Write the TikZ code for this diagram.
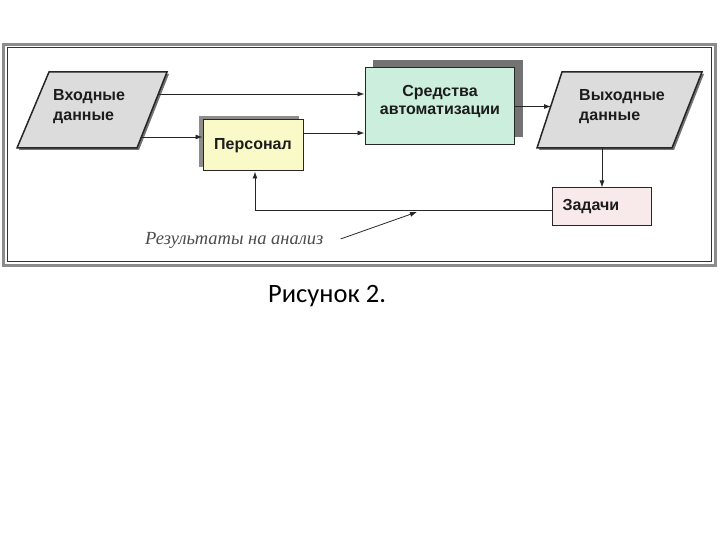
\documentclass[tikz,border=0pt]{standalone}
\usepackage{fontspec}
\setmainfont{Liberation Sans}
\newfontfamily\capfont{Carlito}
\newfontfamily\annfont{Liberation Serif}
\usetikzlibrary{arrows.meta,shadows}
\definecolor{inGray}{HTML}{DCDCDC}
\definecolor{persFill}{HTML}{FAFAC8}
\definecolor{sredFill}{HTML}{CCEFDD}
\definecolor{taskFill}{HTML}{F8E9EB}
\definecolor{txt}{HTML}{1C1C1C}
\begin{document}
\begin{tikzpicture}[x=1pt,y=-1pt,
  boxtext/.style={font=\fontsize{16}{18}\selectfont\bfseries, text=txt},
  box/.style={draw=black!85, line width=1pt, boxtext, inner sep=0pt},
  para/.style={draw=black!85, line width=1.5pt, fill=inGray},
  parashadow/.style={fill=black!55},
  conn/.style={draw=black!85, line width=0.9pt, -{Latex[length=7pt,width=5pt]}}
]
\useasboundingbox (0,0) rectangle (720,540);
\fill[white] (0,0) rectangle (720,540);
% frame
\draw[line width=3pt, draw=black!45] (3.5,44.5) rectangle (715,265.5);
\draw[line width=1pt, draw=black!80] (7.5,47.5) rectangle (711,261.5);

% input parallelogram
\fill[parashadow] (51,74) -- (169,74) -- (139,150) -- (19,150) -- cycle;
\draw[para] (49,72) -- (167,72) -- (137,148) -- (17,148) -- cycle;
\node[boxtext, anchor=west, align=left, font=\fontsize{16}{20}\selectfont\bfseries, inner sep=0pt] (in) at (53,107) {Входные\\данные};
\coordinate (inA) at (159,94);
\coordinate (inB) at (142,137);

% output parallelogram
\fill[parashadow] (564,74) -- (704,74) -- (674,150) -- (539,150) -- cycle;
\draw[para] (562,72) -- (702,72) -- (672,148) -- (537,148) -- cycle;
\node[boxtext, anchor=west, align=left, font=\fontsize{16}{20}\selectfont\bfseries, inner sep=0pt] (out) at (579,107) {Выходные\\данные};
\coordinate (outL) at (551,106.5);
\coordinate (outB) at (602,148);

% Персонал
\fill[black!45] (199,116) rectangle (299,167);
\node[box, fill=persFill, minimum width=100pt, minimum height=51pt] (pers) at (253,145.5) {Персонал};

% Средства автоматизации
\fill[black!55] (373,60) rectangle (523,137);
\node[box, fill=sredFill, minimum width=149pt, minimum height=77pt] (sred) at (439.5,106.5) {};
\node[boxtext, align=center, inner sep=0pt] (sredtxt) at (440,102) {Средства\\автоматизации};

% Задачи
\node[box, fill=taskFill, minimum width=99pt, minimum height=38pt, anchor=west, align=left, text width=79pt, inner xsep=10pt] (task) at (552,207) {Задачи};

% connectors
\draw[conn] (inA) -- (inA -| sred.west);
\draw[conn] (inB) -- (inB -| pers.west);
\draw[conn] ([yshift=12.5pt]pers.east) -- ([yshift=12.5pt]pers.east -| sred.west);
\draw[conn] (sred.east) -- (outL);
\draw[conn] (outB) -- (outB |- task.north);
\draw[conn] ([yshift=-3pt]task.west) -| ([xshift=2pt]pers.south);

% annotation
\node[anchor=base west, inner sep=0pt, text=black!70, font=\annfont\itshape\fontsize{18.5}{20}\selectfont] (ann) at (145,244) {Результаты на анализ};
\coordinate (annTip) at (417,212);
\draw[conn, line width=0.8pt] ([xshift=17pt,yshift=1pt]ann.east) -- (annTip);

% caption
\node[anchor=base west, inner sep=0pt, font=\capfont\fontsize{26.5}{30}\selectfont] (cap) at (268,302) {Рисунок 2.};
\end{tikzpicture}
\end{document}
